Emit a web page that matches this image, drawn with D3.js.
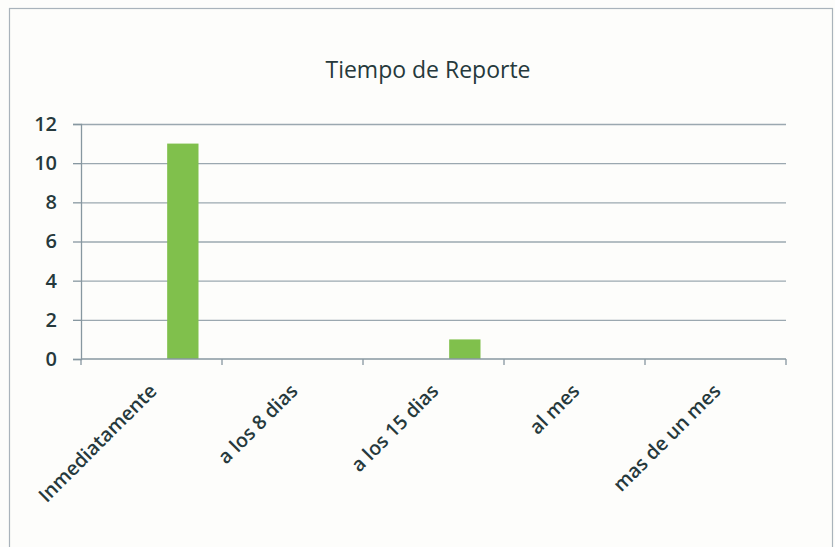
<!DOCTYPE html>
<html>
<head>
<meta charset="utf-8">
<script src="https://cdn.jsdelivr.net/npm/d3@7"></script>
<style>
  html, body { margin: 0; padding: 0; background: #fdfdfb; }
  svg { display: block; }
  text { font-family: "Open Sans", "Noto Sans", sans-serif; fill: #26393c; }
</style>
</head>
<body>
<div id="chart"></div>
<script>
/* ---- datos ---- */
const categories = ['Inmediatamente', 'a los 8 dias', 'a los 15 dias', 'al mes', 'mas de un mes'];
const values     = [11, 0, 1, 0, 0];
const yTicks     = [0, 2, 4, 6, 8, 10, 12];
const title      = 'Tiempo de Reporte';

const W = 835, H = 547;
const M = { top: 124, right: 49, bottom: 188, left: 81 };   // area del grafico
const GRID = '#9ba8b0', AXIS = '#8797a0', BAR = '#80c04c';

const svg = d3.select('#chart').append('svg')
  .attr('width', W).attr('height', H);

/* marco del grafico (recortado abajo como en la captura) */
svg.append('rect')
  .attr('x', 9.5).attr('y', 8.5)
  .attr('width', 823).attr('height', 560)
  .attr('fill', 'none').attr('stroke', '#a9b3bb').attr('stroke-width', 1.2);

/* escalas */
const x = d3.scaleBand()
  .domain(categories)
  .range([M.left, W - M.right])
  .padding(0);

// 3 huecos por categoria (serie 3 de un grafico agrupado, gap 150 %)
const slot = d3.scaleBand()
  .domain([0, 1, 2])
  .range([0, x.bandwidth()])
  .paddingInner(0)
  .paddingOuter(0.75);

const y = d3.scaleLinear()
  .domain([0, 12])
  .range([H - M.bottom, M.top]);

/* titulo */
svg.append('text')
  .attr('x', 428).attr('y', 78)
  .attr('text-anchor', 'middle')
  .attr('font-size', 23)
  .text(title);

/* lineas de division */
svg.append('g')
  .attr('transform', `translate(${M.left},0)`)
  .call(d3.axisLeft(y).tickValues(yTicks.slice(1))
        .tickSize(-(W - M.left - M.right)).tickFormat(''))
  .call(g => g.select('.domain').remove())
  .call(g => g.selectAll('line').attr('stroke', GRID).attr('stroke-width', 1.3));

/* eje Y */
svg.append('g')
  .attr('transform', `translate(${M.left},0)`)
  .call(d3.axisLeft(y).tickValues(yTicks).tickSize(8).tickPadding(16))
  .call(g => g.select('.domain').attr('stroke', AXIS).attr('stroke-width', 1.3))
  .call(g => g.selectAll('line').attr('stroke', AXIS).attr('stroke-width', 1.3))
  .call(g => g.selectAll('text')
        .attr('font-size', 20)
        .attr('font-weight', 600)
        .attr('font-family', '"Open Sans", sans-serif')
        .attr('fill', '#26393c'));

/* barras */
svg.append('g')
  .selectAll('rect')
  .data(values)
  .join('rect')
    .attr('x', (d, i) => x(categories[i]) + slot(2))
    .attr('width', slot.bandwidth())
    .attr('y', d => y(d))
    .attr('height', d => y(0) - y(d))
    .attr('fill', BAR);

/* eje X (linea + marcas entre categorias) */
const bounds = categories.map(c => x(c)).concat([x.range()[1]]);
const xa = svg.append('g');
xa.append('line')
  .attr('x1', x.range()[0]).attr('x2', x.range()[1])
  .attr('y1', y(0)).attr('y2', y(0))
  .attr('stroke', AXIS).attr('stroke-width', 1.3);
xa.selectAll('line.tk')
  .data(bounds)
  .join('line')
    .attr('class', 'tk')
    .attr('x1', d => d).attr('x2', d => d)
    .attr('y1', y(0)).attr('y2', y(0) + 6)
    .attr('stroke', AXIS).attr('stroke-width', 1.3);

/* etiquetas de categoria a -45° */
xa.selectAll('text')
  .data(categories)
  .join('text')
    .attr('transform', d => `translate(${x(d) + x.bandwidth() / 2 - 4},${y(0) + 23}) rotate(-45)`)
    .attr('text-anchor', 'end')
    .attr('dy', '0.75em')
    .attr('font-size', 19.5)
    .attr('font-weight', 600)
    .text(d => d);
</script>
</body>
</html>
